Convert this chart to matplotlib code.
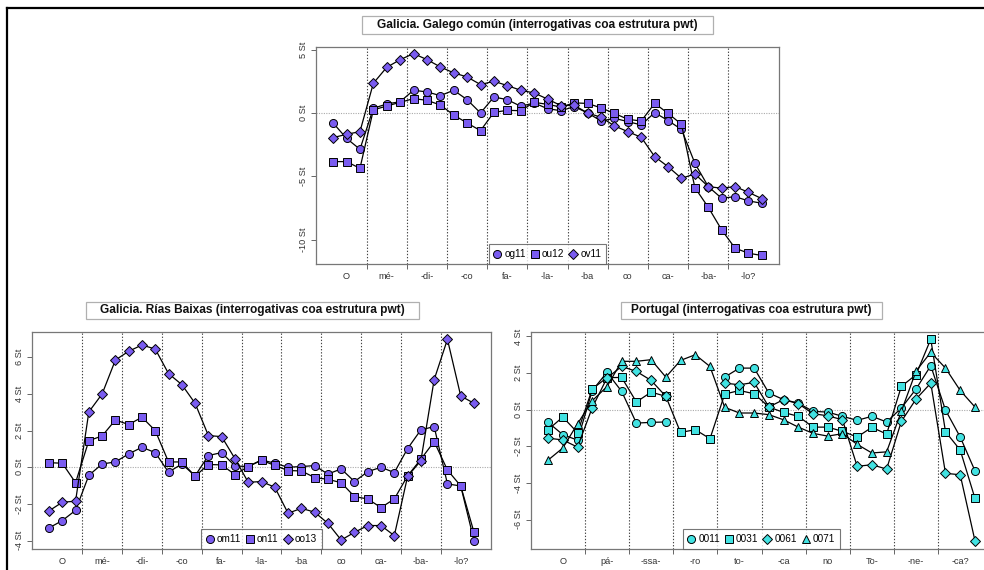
"""Normalised F0 contours (semitones) for pwt interrogatives: Galician
varieties and Portuguese, one panel per region, syllables on the x axis."""

import numpy as np
import matplotlib
matplotlib.use("Agg")
import matplotlib.pyplot as plt            # noqa: E402
from matplotlib.lines import Line2D        # noqa: E402
from matplotlib.patches import Rectangle   # noqa: E402

plt.rcParams["font.family"] = ["Liberation Sans", "DejaVu Sans"]

W, H = 984, 570
NA = np.nan

# -- Galicia, galego común ---------------------------------------------------
gc_title = "Galicia. Galego común (interrogativas coa estrutura pwt)"
gc_syllables = ["O", "mé-", "-di-", "-co", "fa-", "-la-", "-ba", "co", "ca-",
                "-ba-", "-lo?"]
gc_labels = ["og11", "ou12", "ov11"]
gc_og11 = [-0.79, -2.0, -2.86, 0.37, 0.71, 0.89, 1.79, 1.66, 1.37,
           1.79, 1.05, 0.0, 1.26, 1.05, 0.53, 0.79, 0.34, 0.18,
           0.5, 0.0, -0.63, -0.42, -0.68, -0.94, 0.03, -0.6, -1.29,
           -3.96, -5.8, -6.72, -6.59, -6.93, -7.11]
gc_ou12 = [-3.83, -3.83, -4.36, 0.24, 0.55, 0.84, 1.13, 1.0, 0.63,
           -0.16, -0.79, -1.39, 0.05, 0.21, 0.18, 0.84, 0.68, 0.47,
           0.8, 0.75, 0.4, -0.03, -0.5, -0.63, 0.76, -0.03, -0.89,
           -5.88, -7.43, -9.21, -10.65, -11.05, -11.23]
gc_ov11 = [-1.94, -1.68, -1.47, 2.34, 3.6, 4.2, 4.68, 4.21, 3.63,
           3.16, 2.84, 2.24, 2.5, 2.16, 1.79, 1.58, 1.1, 0.58,
           0.6, 0.0, -0.34, -1.02, -1.47, -1.92, -3.44, -4.23, -5.15,
           -4.8, -5.8, -5.93, -5.8, -6.25, -6.75]
gc_yticks = [5, 0, -5, -10]

# -- Galicia, Rías Baixas ----------------------------------------------------
rb_title = "Galicia. Rías Baixas (interrogativas coa estrutura pwt)"
rb_syllables = gc_syllables
rb_labels = ["om11", "on11", "oo13"]
rb_om11 = [-3.31, -2.91, -2.35, -0.44, 0.18, 0.29, 0.73, 1.09, 0.8,
           -0.27, 0.18, -0.47, 0.64, 0.8, 0.07, 0.04, 0.4, 0.22,
           0.0, 0.04, 0.09, -0.37, -0.09, -0.78, -0.24, 0.0, -0.29,
           1.02, 2.04, 2.22, -0.91, -1.02, -4.0]
rb_on11 = [0.25, 0.22, -0.84, 1.45, 1.71, 2.58, 2.33, 2.73, 2.0,
           0.29, 0.29, -0.49, 0.15, 0.13, -0.4, 0.04, 0.38, 0.1,
           -0.18, -0.2, -0.56, -0.66, -0.84, -1.6, -1.73, -2.2, -1.73,
           -0.47, 0.44, 1.4, -0.15, -1.02, -3.55]
rb_oo13 = [-2.38, -1.91, -1.85, 3.02, 4.0, 5.85, 6.33, 6.67, 6.45,
           5.11, 4.51, 3.49, 1.73, 1.67, 0.47, -0.82, -0.78, -1.09,
           -2.51, -2.24, -2.45, -3.06, -3.97, -3.55, -3.18, -3.18, -3.73,
           -0.5, 0.36, 4.78, 6.98, 3.89, 3.49]
rb_yticks = [6, 4, 2, 0, -2, -4]

# -- Portugal ----------------------------------------------------------------
pt_title = "Portugal (interrogativas coa estrutura pwt)"
pt_syllables = ["O", "pá-", "-ssa-", "-ro", "to-", "-ca", "no", "To-", "-ne-",
                "-ca?"]
pt_labels = ["0011", "0031", "0061", "0071"]
pt_0011 = [-0.69, -1.36, -1.66, 1.04, 2.04, 1.0, -0.73, -0.69, -0.67,
           NA, NA, NA, 1.78, 2.27, 2.27, 0.91, 0.55, 0.36,
           -0.09, -0.13, -0.36, -0.58, -0.36, -0.67, 0.09, 1.13, 2.4,
           -0.02, -1.49, -3.33]
pt_0031 = [-1.09, -0.4, -1.25, 1.13, 1.75, 1.76, 0.42, 0.96, 0.73,
           -1.24, -1.09, -1.58, 0.85, 1.05, 0.87, 0.15, -0.15, -0.36,
           -0.95, -0.95, -1.18, -1.49, -0.96, -1.33, 1.27, 1.91, 3.85,
           -1.2, -2.2, -4.83]
pt_0061 = [-1.55, -1.65, -2.04, 0.11, 1.73, 2.36, 2.09, 1.6, 0.73,
           NA, NA, NA, 1.45, 1.36, 1.49, 0.15, 0.55, 0.33,
           -0.22, -0.33, -0.55, -3.09, -3.0, -3.24, -0.64, 0.58, 1.45,
           -3.47, -3.55, -7.14]
pt_0071 = [-2.75, -2.09, -0.77, 0.49, 1.26, 2.64, 2.64, 2.73, 1.78,
           2.69, 3.0, 2.36, 0.13, -0.18, -0.18, -0.27, -0.55, -0.95,
           -1.29, -1.44, -1.31, -1.89, -2.36, -2.3, -0.09, 2.11, 3.13,
           2.27, 1.05, 0.15]
pt_yticks = [4, 2, 0, -2, -4, -6]

PURPLE = "#7a5cf0"
CYAN = "#42e2e2"
MARKERS = {"o": 5.8, "s": 5.2, "D": 4.6, "^": 6.0}


def _fig_rect(x0, y0, x1, y1):
    """Pixel box (top-left origin) -> figure-fraction [left, bottom, w, h]."""
    return [x0 / W, 1 - y1 / H, (x1 - x0) / W, (y1 - y0) / H]


def title_box(fig, text, box):
    l, b, w, h = _fig_rect(*box)
    fig.add_artist(Rectangle((l, b), w, h, transform=fig.transFigure,
                             facecolor="white", edgecolor="#b0b0b0", lw=0.9))
    fig.text(l + w / 2, b + h / 2, text, ha="center", va="center",
             fontsize=8.6, fontweight="bold", color="#111111")


def contour_panel(fig, box, syllables, series, labels, markers, fill,
                  yticks, ylim):
    ax = fig.add_axes(_fig_rect(*box))
    n = 3 * len(syllables)
    x = np.arange(1, n + 1)
    pad = 0.04 * (n - 1)
    ax.set_xlim(1 - pad, n + pad)
    ax.set_ylim(*ylim)

    bounds = np.arange(1, len(syllables)) * 3 + 0.5
    for b in bounds:
        ax.axvline(b, color="#444444", ls=(0, (1.2, 1.6)), lw=0.8, zorder=1)
    ax.axhline(0, color="#aaaaaa", ls=(0, (1, 1.2)), lw=0.8, zorder=1)

    handles = []
    for vals, m in zip(series, markers):
        ax.plot(x, vals, color="black", lw=0.9, marker=m, ms=MARKERS[m],
                mfc=fill, mec="black", mew=0.7, zorder=3)
        handles.append(Line2D([], [], ls="none", marker=m, ms=MARKERS[m],
                              mfc=fill, mec="black", mew=0.7))

    ax.set_xticks(np.arange(len(syllables)) * 3 + 2)
    ax.set_xticklabels(syllables)
    ax.set_xticks(bounds, minor=True)
    ax.tick_params(axis="x", which="major", length=0, pad=6,
                   labelsize=6.6, labelcolor="#333333")
    ax.tick_params(axis="x", which="minor", length=3.5, width=0.7,
                   color="#666666")
    ax.set_yticks(yticks)
    ax.set_yticklabels([f"{v} St" for v in yticks], rotation=90,
                       va="center")
    ax.tick_params(axis="y", length=3.5, width=0.7, color="#666666", pad=2,
                   labelsize=6.6, labelcolor="#333333")
    for sp in ax.spines.values():
        sp.set_color("#777777")
        sp.set_linewidth(0.9)

    leg = ax.legend(handles, labels, loc="lower center", ncol=len(labels),
                    fontsize=7.2, frameon=True, fancybox=False,
                    borderaxespad=0, handlelength=0.7, handletextpad=0.35,
                    columnspacing=0.55, borderpad=0.5)
    leg.get_frame().set_edgecolor("#555555")
    leg.get_frame().set_linewidth(0.8)
    leg.set_zorder(5)
    return ax


fig = plt.figure(figsize=(W / 100, H / 100), dpi=100)

# outer frame (top and left edges of the sheet)
fig.add_artist(Line2D([7 / W, 1], [1 - 8 / H] * 2, transform=fig.transFigure,
                      color="black", lw=1.6))
fig.add_artist(Line2D([7 / W] * 2, [0, 1 - 8 / H], transform=fig.transFigure,
                      color="black", lw=1.6))

title_box(fig, gc_title, (362, 16, 713, 34))
contour_panel(fig, (316, 47, 779, 264), gc_syllables,
              [gc_og11, gc_ou12, gc_ov11], gc_labels, ["o", "s", "D"],
              PURPLE, gc_yticks, (-11.9, 5.2))

title_box(fig, rb_title, (86, 302, 419, 319))
contour_panel(fig, (32, 332, 491, 549), rb_syllables,
              [rb_om11, rb_on11, rb_oo13], rb_labels, ["o", "s", "D"],
              PURPLE, rb_yticks, (-4.46, 7.38))

title_box(fig, pt_title, (621, 302, 882, 319))
contour_panel(fig, (531, 332, 992, 549), pt_syllables,
              [pt_0011, pt_0031, pt_0061, pt_0071], pt_labels,
              ["o", "s", "D", "^"], CYAN, pt_yticks, (-7.6, 4.24))

fig.savefig("out.png", dpi=100)
